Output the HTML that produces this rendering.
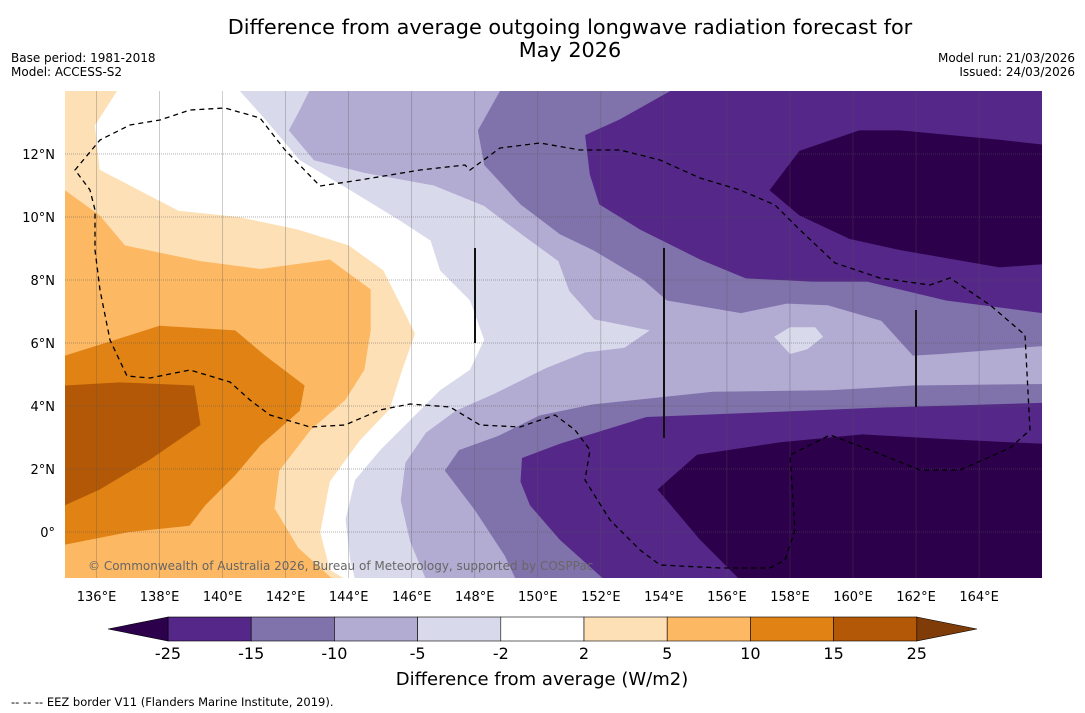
<!DOCTYPE html>
<html><head><meta charset="utf-8">
<style>
body{margin:0;background:#fff;width:1085px;height:713px;overflow:hidden;font-family:"DejaVu Sans","Liberation Sans",sans-serif;}
svg{position:absolute;left:0;top:0}
</style></head>
<body>
<svg id="chart" width="1085" height="713" viewBox="0 0 1085 713" xmlns="http://www.w3.org/2000/svg">
<text x="570" y="34" font-size="20.8" text-anchor="middle" font-family="DejaVu Sans, sans-serif">Difference from average outgoing longwave radiation forecast for</text>
<text x="570" y="57" font-size="20.8" text-anchor="middle" font-family="DejaVu Sans, sans-serif">May 2026</text>
<text x="11" y="62" font-size="12" font-family="DejaVu Sans, sans-serif">Base period: 1981-2018</text>
<text x="11" y="76" font-size="12" font-family="DejaVu Sans, sans-serif">Model: ACCESS-S2</text>
<text x="1075" y="62" font-size="12" text-anchor="end" font-family="DejaVu Sans, sans-serif">Model run: 21/03/2026</text>
<text x="1075" y="76" font-size="12" text-anchor="end" font-family="DejaVu Sans, sans-serif">Issued: 24/03/2026</text>
<g id="map"></g>
<g id="cbar"></g>
<text x="542" y="685" font-size="18" text-anchor="middle" font-family="DejaVu Sans, sans-serif">Difference from average (W/m2)</text>
<text x="11" y="706" font-size="11.5" font-family="DejaVu Sans, sans-serif">--  --  -- EEZ border V11 (Flanders Marine Institute, 2019).</text>
</svg>
<script>
const NS="http://www.w3.org/2000/svg";
const lonTicks=[136,138,140,142,144,146,148,150,152,154,156,158,160,162,164];
const latTicks=[0,2,4,6,8,10,12];
const levelLabels=["-25","-15","-10","-5","-2","2","5","10","15","25"];
const levelColors=["#542788","#8073ac","#b2abd2","#d8daeb","#ffffff","#fee0b6","#fdb863","#e08214","#b35806"];
const pos2=[[135,14],[136.65,14],[135.95,12.9],[136.1,11.5],[138.6,10.2],[140.5,10.0],[142.4,9.6],[144.0,9.1],[145.1,8.3],[145.9,6.7],[146.1,6.3],[145.65,5.0],[145.3,3.9],[144.35,2.9],[143.4,1.6],[143.1,0.0],[143.4,-1.2],[143.9,-1.5],[135,-1.5]];
const pos5=[[135,10.85],[136.1,10.05],[136.9,9.1],[139.3,8.6],[141.2,8.35],[143.4,8.65],[144.7,7.7],[144.7,6.4],[144.5,5.15],[143.9,4.2],[142.8,3.25],[141.8,1.95],[141.65,0.75],[142.4,-0.5],[143.5,-1.5],[135,-1.5]];
const pos10=[[135,5.6],[136.75,6.15],[138,6.55],[140.4,6.4],[141.35,5.6],[142.6,4.65],[142.45,3.85],[141.2,2.75],[140.4,1.8],[139.45,0.85],[138.95,0.2],[137.05,0.0],[135,-0.4]];
const pos15=[[135,4.65],[136.75,4.75],[139.1,4.65],[139.3,3.4],[137.7,2.3],[136.1,1.35],[135,0.85]];
const neg2=[[140.55,14],[141.35,13.1],[142.45,11.8],[144.05,10.85],[145.6,9.9],[146.6,9.25],[146.9,8.3],[147.85,7.35],[148.3,6.1],[147.85,5.15],[146.9,4.5],[145.95,3.55],[145.0,2.6],[144.2,1.65],[143.9,0.4],[144.05,-0.9],[144.2,-1.5],[166,-1.5],[166,14]];
const neg5=[[142.75,14],[142.45,13.4],[142.1,12.75],[142.9,11.8],[144.5,11.4],[146.7,11.0],[148.3,10.35],[149.55,9.4],[150.65,8.6],[151.0,7.65],[151.8,6.75],[153.55,6.4],[152.75,5.85],[151.5,5.7],[150.25,5.2],[148.65,4.4],[147.4,3.85],[146.45,3.15],[145.8,2.2],[145.65,1.0],[145.95,-0.3],[146.45,-1.5],[166,-1.5],[166,14]];
const neg5hole=[[157.5,6.2],[158.0,6.5],[158.8,6.5],[159.05,6.2],[158.55,5.8],[158.0,5.65]];
const neg10a=[[148.8,14],[148.1,12.75],[148.3,11.65],[149.45,10.4],[150.7,9.45],[151.75,8.95],[153.35,8.0],[154.1,7.35],[156.45,6.95],[157.9,7.25],[159.2,7.2],[160.9,6.7],[161.9,5.6],[162.8,5.65],[166,5.9],[166,14]];
const neg10b=[[147.05,1.95],[147.5,2.6],[148.75,3.05],[150.05,3.7],[151.75,4.05],[155.55,4.45],[159.25,4.5],[161.9,4.65],[166,4.7],[166,-1.5],[149.3,-1.5],[148.95,-0.75],[148.0,0.7]];
const neg15a=[[154.2,14],[152.6,13.1],[151.5,12.6],[151.65,11.35],[151.95,10.4],[153.25,9.6],[155.15,8.65],[156.6,8.05],[158.7,7.95],[160.45,7.95],[162.95,7.35],[166,6.95],[166,14]];
const neg15b=[[149.5,2.35],[150.7,2.8],[153.45,3.65],[157.25,3.8],[160.85,3.95],[166,4.1],[166,-1.5],[152.1,-1.5],[150.7,-0.25],[149.75,0.85],[149.45,1.6]];
const neg25a=[[157.35,10.85],[158.3,12.1],[160.2,12.75],[161.5,12.75],[164.65,12.45],[166,12.3],[166,8.5],[164.65,8.4],[161.5,8.95],[159.9,9.3],[158.3,10.05]];
const neg25b=[[156.4,-1.5],[155.15,-0.25],[153.8,1.35],[155.05,2.45],[157.7,2.85],[160.3,3.1],[162.95,2.95],[166,2.8],[166,-1.5]];

const X0=65,Y0=91,LON0=135,LAT0=14,SX=31.52,SY=31.5;
const px=lon=>X0+(lon-LON0)*SX;
const py=lat=>Y0+(LAT0-lat)*SY;
const map=document.getElementById('map');
function el(tag,attrs,parent){const e=document.createElementNS(NS,tag);for(const k in attrs)e.setAttribute(k,attrs[k]);parent.appendChild(e);return e;}
const clip=el('clipPath',{id:'mc'},map);el('rect',{x:65,y:91,width:977,height:487},clip);
const g=el('g',{'clip-path':'url(#mc)'},map);
el('rect',{x:65,y:91,width:977,height:487,fill:'#fff'},g);
function poly(pts,color,name){
  const p=el('polygon',{points:pts.map(q=>px(q[0]).toFixed(1)+','+py(q[1]).toFixed(1)).join(' '),fill:color},g);
  
  
}
poly(pos2,"#fee0b6","contour-plus-2");
poly(pos5,"#fdb863","contour-plus-5");
poly(pos10,"#e08214","contour-plus-10");
poly(pos15,"#b35806","contour-plus-15");
poly(neg2,"#d8daeb","contour-minus-2");
poly(neg5,"#b2abd2","contour-minus-5");
poly(neg5hole,"#d8daeb","contour-minus-5-hole");
poly(neg10a,"#8073ac","contour-minus-10-north");
poly(neg10b,"#8073ac","contour-minus-10-south");
poly(neg15a,"#542788","contour-minus-15-north");
poly(neg15b,"#542788","contour-minus-15-south");
poly(neg25a,"#2d004b","contour-minus-25-north");
poly(neg25b,"#2d004b","contour-minus-25-south");
lonTicks.forEach(l=>{const x=px(l);const ln=el('line',{x1:x,x2:x,y1:91,y2:578,stroke:'#555','stroke-width':0.6,'stroke-opacity':0.5},g);
 
 
 const t=el('text',{x:x,y:601,'font-size':13,'text-anchor':'middle','font-family':'DejaVu Sans, sans-serif'},map);t.textContent=l+'°E';
 
 });
latTicks.forEach(l=>{const y=py(l);const ln=el('line',{x1:65,x2:1042,y1:y,y2:y,stroke:'#555','stroke-width':0.8,'stroke-dasharray':'1,1','stroke-opacity':0.6},g);
 
 
 const t=el('text',{x:55,y:y+5,'font-size':13,'text-anchor':'end','font-family':'DejaVu Sans, sans-serif'},map);t.textContent=l===0?'0°':l+'°N';
 
 });
const eez=el('path',{d:'M75,170 L100,140 130,125 160,120 190,110 225,108 260,118 285,150 320,186 360,180 420,170 465,165 470,170 500,148 540,143 580,150 620,150 660,160 700,178 740,190 775,205 800,230 835,263 880,278 930,285 950,278 990,305 1025,335 1030,430 1010,448 960,470 920,470 870,450 830,435 790,455 795,530 785,560 770,568 720,568 660,565 640,550 610,520 585,480 590,450 575,430 555,415 520,427 480,425 450,407 410,404 380,410 345,425 310,427 270,415 250,400 230,382 190,370 150,378 127,376 110,340 100,290 95,250 95,210 90,190 Z',fill:'none',stroke:'#000','stroke-width':1.3,'stroke-dasharray':'5,4'},g);


[[475,248,343],[664,248,438],[916,310,407]].forEach(v=>{const l=el('line',{x1:v[0],x2:v[0],y1:v[1],y2:v[2],stroke:'#111','stroke-width':2},g);
 
 });
const cp=el('text',{x:88,y:570,'font-size':12,fill:'#666','font-family':'DejaVu Sans, sans-serif'},g);cp.textContent='© Commonwealth of Australia 2026, Bureau of Meteorology, supported by COSPPac';


const cb=document.getElementById('cbar');
const cx0=168,cw=83.2,cy=617,ch=24;
levelColors.forEach((c,i)=>{const r=el('rect',{x:cx0+i*cw,y:cy,width:cw,height:ch,fill:c,stroke:'#000','stroke-width':0.6},cb);
 
 });
el('polygon',{points:`${cx0},${cy} 108,${cy+ch/2} ${cx0},${cy+ch}`,fill:'#2d004b',stroke:'#000','stroke-width':0.6},cb);
el('polygon',{points:`${cx0+9*cw},${cy} 977,${cy+ch/2} ${cx0+9*cw},${cy+ch}`,fill:'#7f3b08',stroke:'#000','stroke-width':0.6},cb);
levelLabels.forEach((s,i)=>{const t=el('text',{x:cx0+i*cw,y:659,'font-size':16,'text-anchor':'middle','font-family':'DejaVu Sans, sans-serif'},cb);t.textContent=s;
 
 });
</script>
</body></html>
